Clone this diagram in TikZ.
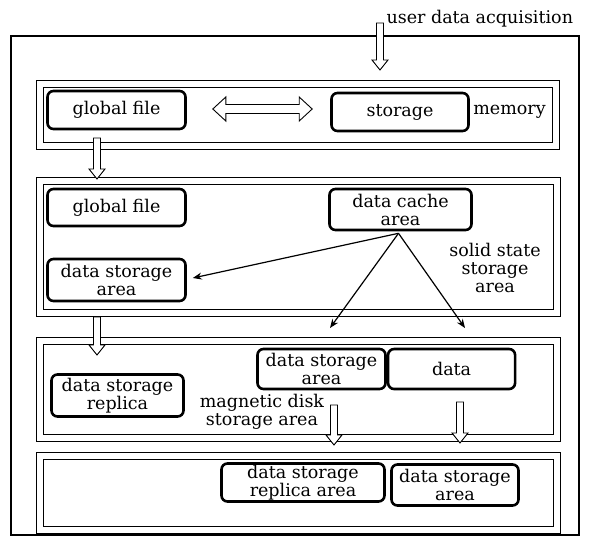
\documentclass[tikz,border=0pt]{standalone}
\usepackage{fontspec}
\setmainfont{DejaVu Serif}
\usepackage{tikz}
\usetikzlibrary{positioning,calc,arrows.meta}

\newcommand{\hollowdown}[2]{%
  \draw[line width=0.9pt, fill=white] let \p1=(#1), \p2=(#2) in
    (\x1-3.5pt,\y1) -- (\x1-3.5pt,\y2+10pt) -- (\x1-8pt,\y2+10pt) -- (\x1,\y2)
    -- (\x1+8pt,\y2+10pt) -- (\x1+3.5pt,\y2+10pt) -- (\x1+3.5pt,\y1) -- cycle;}
\newcommand{\hollowboth}[2]{%
  \draw[line width=0.9pt, fill=white] let \p1=(#1), \p2=(#2) in
    (\x1,\y1) -- (\x1+13pt,\y1+12pt) -- (\x1+13pt,\y1+4.5pt) -- (\x2-13pt,\y1+4.5pt)
    -- (\x2-13pt,\y1+12pt) -- (\x2,\y1) -- (\x2-13pt,\y1-12pt) -- (\x2-13pt,\y1-4.5pt)
    -- (\x1+13pt,\y1-4.5pt) -- (\x1+13pt,\y1-12pt) -- cycle;}

\begin{document}
\begin{tikzpicture}
	[x=1pt, y=-1pt, font=\fontsize{17.5}{18}\selectfont,
	 box/.style = {draw, line width=2.6pt, rounded corners=6pt, align=center, inner sep=0pt},
	 layer/.style = {draw, double, double distance=6.2pt, line width=0.8pt, inner sep=0pt},
	 thinarrow/.style = {line width=1.2pt, -{Stealth[length=9pt, width=7pt]}}]
	\useasboundingbox (0,0) rectangle (589,536);
	\draw[line width=2pt] (11,36) rectangle (579,534.5);

	\node[layer, minimum width=516pt, minimum height=62pt] (mem) at (298,115) {};
	\node[layer, minimum width=517pt, minimum height=132pt] (ssd) at (298.5,247) {};
	\node[layer, minimum width=517pt, minimum height=97pt] (disk) at (298.5,389.5) {};
	\node[layer, minimum width=517pt, minimum height=74pt] (low) at (298.5,493) {};

	\node[anchor=base west] (user) at (383,23) {user data acquisition};
	\coordinate (u0) at (380,23);
	\coordinate (u1) at (380,70);
	\hollowdown{u0}{u1}

	\node[box, minimum width=138pt, minimum height=38pt] (gfa) at (116.5,110) {global file};
	\node[box, minimum width=137pt, minimum height=38pt] (sto) at (400,112) {storage};
	\node[right=0pt of sto] (memtxt) {memory};
	\coordinate (dl) at ($(gfa.east)+(26,-1)$);
	\coordinate (dr) at ($(sto.west)+(-18,-3)$);
	\hollowboth{dl}{dr}
	\coordinate (a0) at (97,138);
	\coordinate (a1) at (97,179);
	\hollowdown{a0}{a1}

	\node[box, minimum width=138pt, minimum height=37pt] (gfb) at (116.5,207.5) {global file};
	\node[box, minimum width=142pt, minimum height=41pt] (cache) at (400.5,209.5) {data cache\\area};
	\node[box, minimum width=138pt, minimum height=42pt] (dsa) at (116.5,280) {data storage\\area};
	\node[align=center] (ssdtxt) at (495,268) {solid state\\storage\\area};
	\coordinate (c0) at ($(cache.south)+(-2,2)$);
	\coordinate (t1) at (330,328);
	\coordinate (t2) at (465,328);
	\draw[thinarrow] (c0) -- ([xshift=6pt,yshift=2pt]dsa.east);
	\draw[thinarrow] (c0) -- (t1);
	\draw[thinarrow] (c0) -- (t2);
	\coordinate (b0) at (97,317);
	\coordinate (b1) at (97,355);
	\hollowdown{b0}{b1}

	\node[box, minimum width=128pt, minimum height=40pt] (dsb) at (321.5,369) {data storage\\area};
	\node[box, minimum width=127pt, minimum height=40pt, right=0pt of dsb] (dat) {data};
	\node[box, minimum width=132pt, minimum height=42pt] (rep) at (117.5,395.5) {data storage\\replica};
	\node[align=center] (disktxt) at (262,412) {magnetic disk\\storage area};
	\coordinate (d0) at (334,405);
	\coordinate (d1) at (334,445);
	\hollowdown{d0}{d1}
	\coordinate (e0) at (460,402);
	\coordinate (e1) at (460,443);
	\hollowdown{e0}{e1}

	\node[box, minimum width=163pt, minimum height=38pt] (rra) at (303,482.5) {data storage\\replica area};
	\node[box, minimum width=127pt, minimum height=41pt] (dsc) at (455,485) {data storage\\area};
\end{tikzpicture}
\end{document}
